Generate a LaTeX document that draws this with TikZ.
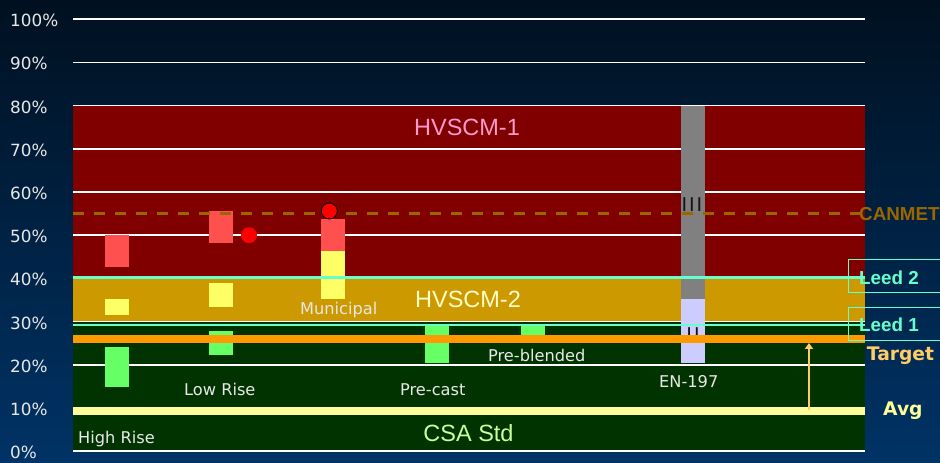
\documentclass[tikz,border=0pt]{standalone}
\usepackage{fontspec}
\setmainfont{DejaVu Sans}
\newfontfamily\arialf{Liberation Sans}
\usetikzlibrary{arrows.meta}
\definecolor{hvred}{HTML}{800000}
\definecolor{hvgold}{HTML}{CC9900}
\definecolor{hvgreen}{HTML}{003300}
\definecolor{barred}{HTML}{FF5050}
\definecolor{baryel}{HTML}{FFFF66}
\definecolor{bargrn}{HTML}{66FF66}
\definecolor{bargray}{HTML}{808080}
\definecolor{barlav}{HTML}{CCCCFF}
\definecolor{leedc}{HTML}{66FFCC}
\definecolor{tgtc}{HTML}{FF9900}
\definecolor{avgc}{HTML}{FFFF99}
\definecolor{canc}{HTML}{996600}
\definecolor{arrc}{HTML}{FFCC66}
\definecolor{lblc}{HTML}{E8E8E8}
\definecolor{bgtop}{HTML}{001020}
\definecolor{bgbot}{HTML}{003366}
\definecolor{zone1}{HTML}{FF99CC}
\definecolor{zone2}{HTML}{FFFFCC}
\definecolor{zone3}{HTML}{CCFF99}
\definecolor{romc}{HTML}{151515}
\begin{document}
\begin{tikzpicture}[x=1pt,y=-1pt,
  lbl/.style={anchor=base west,inner sep=0pt,text=lblc,font=\fontsize{16.2}{19}\selectfont},
  axl/.style={anchor=base west,inner sep=0pt,text=lblc,font=\fontsize{16.8}{20}\selectfont},
  zonelbl/.style={anchor=base,inner sep=0pt,font=\arialf\fontsize{23.5}{28}\selectfont},
  rightlbl/.style={anchor=base west,inner sep=0pt,font=\arialf\bfseries\fontsize{18.8}{22}\selectfont},
  rightlblb/.style={anchor=base west,inner sep=0pt,font=\bfseries\fontsize{18.7}{22}\selectfont},
  romn/.style={anchor=base,inner sep=0pt,text=romc,font=\fontsize{19}{22}\selectfont},
  grid/.style={white,line width=1.6pt},
  dot/.style={circle,fill=red,minimum size=16pt,inner sep=0pt},
  leedline/.style={leedc,line width=2.7pt},
  leedbox/.style={leedc,line width=1pt}
]
\shade[top color=bgtop,bottom color=bgbot] (0,0) rectangle (940,463);
\useasboundingbox (0,0) rectangle (940,463);

% axis labels
\foreach \p in {0,10,...,100}
  \node[axl] at (10,{458.7-4.32*\p}) {\p\%};

\begin{scope}[yshift=-451.2pt,y=4.32pt]
  % zones
  \fill[hvgreen] (73,0) rectangle (865,30);
  \fill[hvgold] (73,30) rectangle (865,40.3);
  \fill[hvred] (73,40.3) rectangle (865,80);
  % grid
  \foreach \p in {0,10,...,100}
    \draw[grid] (73,\p) -- (865,\p);
  % High Rise
  \fill[barred] (105,42.6) rectangle (129,50);
  \fill[baryel] (105,31.6) rectangle (129,35.2);
  \fill[bargrn] (105,14.9) rectangle (129,24.1);
  % Low Rise
  \fill[barred] (209,48.3) rectangle (233,55.6);
  \fill[baryel] (209,33.4) rectangle (233,38.9);
  \fill[bargrn] (209,22.3) rectangle (233,27.8);
  % Municipal
  \fill[barred] (321,46.3) rectangle (345,53.75);
  \fill[baryel] (321,35.3) rectangle (345,46.3);
  % Pre-cast / Pre-blended
  \fill[bargrn] (425,20.5) rectangle (449,29.5);
  \fill[bargrn] (521,26) rectangle (545,29.5);
  % EN-197
  \fill[bargray] (681,35.3) rectangle (705,79.8);
  \fill[barlav] (681,20.5) rectangle (705,35.3);
  \node[romn] (t3) at (692,55.6) {I\kern1.9pt I\kern1.9pt I};
  \node[romn] (t2) at (693,25.5) {I\kern2.3pt I};
  % reference lines
  \draw[leedline] (73,40.25) -- (865,40.25);
  \draw[leedline] (73,29.2) -- (865,29.2);
  \draw[tgtc,line width=7.7pt] (73,26) -- (865,26);
  \draw[avgc,line width=7.3pt] (73,9.3) -- (865,9.3);
  \draw[canc,line width=3pt,dash pattern=on 11pt off 10pt] (73,55) -- (865,55);
  % dots
  \node[dot] (d1) at (249,50) {};
  \node[dot,draw=black,line width=0.8pt] (d2) at (329.3,55.6) {};
  % arrow
  \coordinate (arrlo) at (809,9.6);
  \coordinate (arrhi) at (809,25.05);
  \draw[arrc,line width=2.2pt,-{Triangle[length=6pt,width=8pt]}] (arrlo) -- (arrhi);
\end{scope}

% zone labels
\node[zonelbl,text=zone1] (z1) at (467,135) {HVSCM-1};
\node[zonelbl,text=zone2] (z2) at (468,307) {HVSCM-2};
\node[zonelbl,text=zone3] (z3) at (468.5,441) {CSA Std};

% bar labels
\node[lbl] (l1) at (78,443.3) {High Rise};
\node[lbl] (l2) at (184,395) {Low Rise};
\node[lbl] (l3) at (300,314) {Municipal};
\node[lbl] (l4) at (400,395) {Pre-cast};
\node[lbl] (l5) at (488,361.5) {Pre-blended};
\node[lbl] (l6) at (659,387) {EN-197};

% right labels
\node[rightlbl,text=canc] (r1) at (859,220) {CANMET};
\draw[leedbox] (848,259) rectangle (945,292.3);
\node[rightlbl,text=leedc] (r2) at (859,284) {Leed 2};
\draw[leedbox] (848,307.3) rectangle (945,340.3);
\node[rightlbl,text=leedc] (r3) at (859,331.7) {Leed 1};
\node[rightlblb,text=arrc] (r4) at (866.7,360.7) {Target};
\node[rightlblb,text=avgc] (r5) at (883,415) {Avg};
\end{tikzpicture}
\end{document}
